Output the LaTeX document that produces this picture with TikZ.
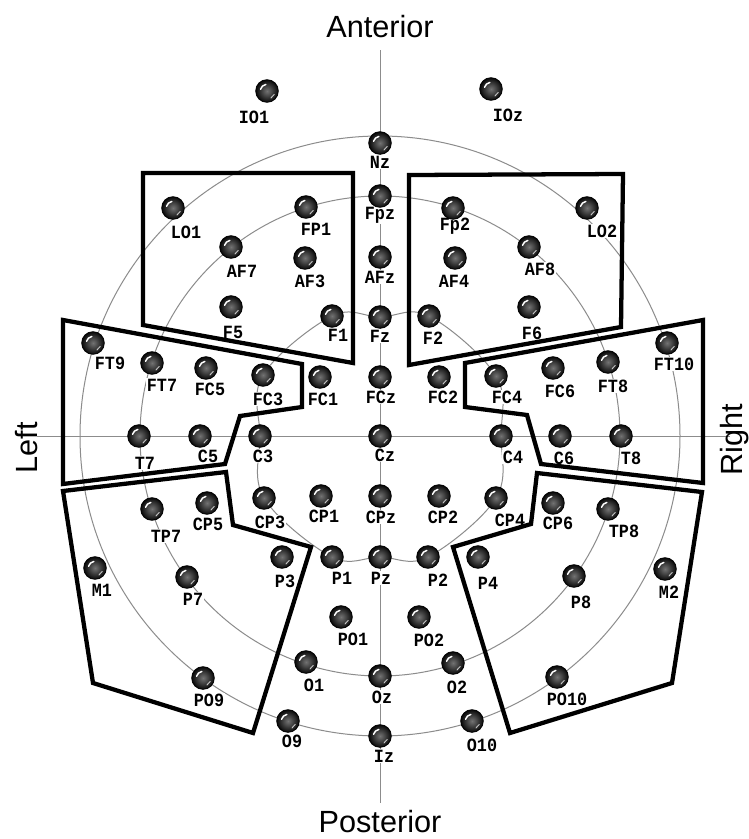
\documentclass[tikz,border=0pt]{standalone}
\usepackage{fontspec}
\setmainfont{Liberation Sans}
\newfontfamily\elfont[FakeStretch=0.9]{Liberation Mono}
\usetikzlibrary{calc}
\pgfdeclarelayer{bg}
\pgfdeclarelayer{lab}
\pgfsetlayers{bg,lab,main}
\definecolor{guidegray}{gray}{0.55}
\tikzset{
  elec/.style={circle,minimum size=17pt,inner sep=0pt,draw=black,line width=0.6pt,
    inner color=black!55,outer color=black!97,
    path picture={
      \draw[white,line width=1.1pt,line cap=round]
        ($(path picture bounding box.center)+(100:5pt)$) arc[start angle=100,end angle=165,radius=5pt];
      \draw[white!55!gray,line width=0.7pt,line cap=round]
        ($(path picture bounding box.center)+(-60:6pt)$) arc[start angle=-60,end angle=-25,radius=6pt];
    }},
  elab/.style={font=\elfont\bfseries\fontsize{14}{14}\selectfont,fill=white,inner sep=0.6pt},
  guide/.style={draw=guidegray,line width=0.75pt},
  region/.style={draw=black,line width=3.2pt,line join=miter},
  dirlab/.style={font=\fontsize{23}{23}\selectfont,inner sep=0pt}
}
\begin{document}
\begin{tikzpicture}[x=0.75pt,y=-0.75pt]
\useasboundingbox (0,0) rectangle (749,839);
\begin{pgfonlayer}{bg}
\fill[white] (0,0) rectangle (749,839);
\end{pgfonlayer}

% electrodes and their labels
\foreach \n/\x/\y/\lx/\ly in {
 IO1/267/91/254/117, IOz/491/89/508/115, Nz/380/143/380/162, Fpz/380/196/380/215,
 FP1/306/207/316/229, Fp2/453/208/455/226, LO1/173/208/186/232, LO2/587/208/602/231,
 AF7/231/247/242/271, AF3/305/258/310/281, AFz/380/257/380/277, AF4/455/258/454/281,
 AF8/529/247/540/269, F5/231/307/233/332, F1/332/316/338/335, Fz/380/317/380/336,
 F2/429/316/433/338, F6/529/307/532/333,
 FT9/93/343/110/363, FT7/152/363/162/385, FC5/206/368/210/389, FC3/263/375/268/399,
 FC1/320/377/323/399, FCz/380/377/381/397, FC2/439/377/443/397, FC4/496/376/507/397,
 FC6/553/368/560/391, FT8/608/362/613/386, FT10/667/343/674/364,
 T7/139/436/145/463, C5/200/436/208/456, C3/260/436/263/456, Cz/380/436/385/455,
 C4/501/436/513/457, C6/560/436/564/458, T8/621/436/631/458,
 TP7/152/509/166/536, CP5/207/503/208/524, CP3/264/498/270/522, CP1/321/496/324/516,
 CPz/380/496/381/517, CP2/439/496/443/517, CP4/496/498/510/520, CP6/553/503/558/523,
 TP8/608/509/624/531,
 M1/95/568/102/590, P7/187/577/193/599, P3/282/557/285/581, P1/332/557/342/578,
 Pz/380/557/381/578, P2/428/557/438/580, P4/478/557/488/583, P8/574/576/581/602,
 M2/665/569/669/592,
 PO1/341/617/353/639, PO2/419/617/429/640, O1/306/662/314/685, Oz/380/676/382/697,
 O2/453/663/457/687, PO9/203/678/209/700, PO10/557/677/567/699,
 O9/288/721/292/741, Iz/380/736/384/756, O10/472/721/482/745}{
  \node[elec] (\n) at (\x,\y) {};
  \begin{pgfonlayer}{lab}
    \node[elab] (\n-lab) at (\lx,\ly) {\n};
  \end{pgfonlayer}
}

% guide lines
\coordinate (axtop) at (380,50);
\coordinate (axbot) at (380,803);
\coordinate (axleft) at (37,436);
\coordinate (axright) at (730,436);
\begin{pgfonlayer}{bg}
\draw[guide] (axtop) -- (axbot);
\draw[guide] (axleft) -- (axright);
\draw[guide] (Cz.center) circle[radius=300];
\draw[guide] (Cz.center) circle[radius=240];
\draw[guide] plot[smooth cycle,tension=0.6] coordinates {(Fz.center) (F1.center) (FC3.center) (C3.center) (CP3.center) (P1.center) (Pz.center) (P2.center) (CP4.center) (C4.center) (FC4.center) (F2.center)};
\end{pgfonlayer}

% direction labels
\node[dirlab,anchor=base] (ant) at (380,37) {Anterior};
\node[dirlab,anchor=base] (post) at (380,832) {Posterior};
\node[dirlab,anchor=base,rotate=90] (left) at (37,448) {Left};
\node[dirlab,anchor=base,rotate=90] (right) at (742,440) {Right};

% regions
\draw[region] (143,173) -- (353,173) -- (353,363) -- (143,325) -- cycle;
\draw[region] (409,175) -- (623,174) -- (621,327) -- (409,365) -- cycle;
\draw[region] (63,320) -- (302,364) -- (302,407) -- (240,416) -- (225,464) -- (63,484) -- cycle;
\draw[region] (703,320) -- (465,363) -- (465,407) -- (527,415) -- (541,464) -- (703,483) -- cycle;
\draw[region] (63,491) -- (226,472) -- (233,525) -- (311,547) -- (253,733) -- (93,683) -- cycle;
\draw[region] (537,473) -- (702,492) -- (672,683) -- (510,733) -- (453,547) -- (531,524) -- cycle;
\end{tikzpicture}
\end{document}
